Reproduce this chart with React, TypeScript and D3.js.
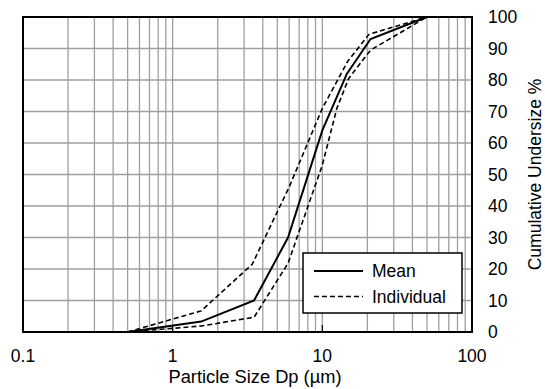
import React from "react";
import * as d3 from "d3";

const meanX = [0.25, 0.5, 1.55, 3.5, 5.9, 10, 14.6, 21, 50];
const meanY = [0, 0, 3.3, 10, 30, 64, 82, 93, 100];
const upperX = [0.5, 1.55, 3.4, 6, 10, 14.8, 20.5, 50];
const upperY = [0, 6.7, 21.5, 46, 71, 86, 94.5, 100];
const lowerX = [0.5, 1.55, 3.5, 5.9, 10, 12.5, 15, 21, 50];
const lowerY = [0, 1.9, 4.7, 21.8, 53, 71, 80.5, 89.5, 100];
const xTicks = [0.1, 1, 10, 100];
const yTicks = [0, 10, 20, 30, 40, 50, 60, 70, 80, 90, 100];
const legendLabels = ["Mean", "Individual"];

const W = 545, H = 389;
const L = 23, R = 472, T = 17, B = 332;
const FONT = "Arial, 'Liberation Sans', sans-serif";

export default function App() {
  const x = d3.scaleLog().domain([0.1, 100]).range([L, R]);
  const y = d3.scaleLinear().domain([0, 100]).range([B, T]);
  const minor: number[] = [];
  for (const dec of [0.1, 1, 10]) for (let k = 2; k <= 9; k++) minor.push(dec * k);
  const line = d3.line<[number, number]>().x(d => x(d[0])).y(d => y(d[1]));
  const mk = (xs: number[], ys: number[]) => line(xs.map((v, i) => [v, ys[i]] as [number, number])) || "";
  const lx = 303, ly = 253, lw = 159, lh = 60;
  return (
    <svg width={W} height={H} style={{ position: "absolute", left: 0, top: 0 }} fontFamily={FONT}>
      <rect x={0} y={0} width={W} height={H} fill="#fff" />
      {minor.map((v, i) => (
        <line key={"m" + i} x1={x(v)} x2={x(v)} y1={T} y2={B} stroke="#9f9f9f" strokeWidth={1.3} />
      ))}
      {[1, 10].map((v, i) => (
        <line key={"M" + i} x1={x(v)} x2={x(v)} y1={T} y2={B} stroke="#9f9f9f" strokeWidth={1.3} />
      ))}
      {yTicks.slice(1, -1).map((v, i) => (
        <line key={"h" + i} x1={L} x2={R} y1={y(v)} y2={y(v)} stroke="#9f9f9f" strokeWidth={1.3} />
      ))}
      {[1, 10].map((v, i) => (
        <line key={"t" + i} x1={x(v)} x2={x(v)} y1={B - 7} y2={B} stroke="#000" strokeWidth={1.2} />
      ))}
      <path d={mk(upperX, upperY)} fill="none" stroke="#000" strokeWidth={1.6} strokeDasharray="5,3" />
      <path d={mk(lowerX, lowerY)} fill="none" stroke="#000" strokeWidth={1.6} strokeDasharray="5,3" />
      <path d={mk(meanX, meanY)} fill="none" stroke="#000" strokeWidth={2} />
      <rect x={L} y={T} width={R - L} height={B - T} fill="none" stroke="#000" strokeWidth={2} />
      <rect x={lx} y={ly} width={lw} height={lh} fill="#fff" stroke="#000" strokeWidth={1.5} />
      <line x1={314} x2={363} y1={271} y2={271} stroke="#000" strokeWidth={2} />
      <line x1={314} x2={363} y1={296.5} y2={296.5} stroke="#000" strokeWidth={1.6} strokeDasharray="5,3" />
      <text x={372} y={277} fontSize={17.5}>{legendLabels[0]}</text>
      <text x={372} y={302.5} fontSize={17.5}>{legendLabels[1]}</text>
      {yTicks.map((v, i) => (
        <text key={"yl" + i} x={488} y={y(v) + 6} fontSize={17.5}>{v}</text>
      ))}
      {xTicks.map((v, i) => (
        <text key={"xl" + i} x={x(v)} y={362} fontSize={17.5} textAnchor="middle">{String(v)}</text>
      ))}
      <text x={255} y={383} fontSize={18.3} textAnchor="middle">Particle Size Dp (µm)</text>
      <text transform={`translate(541,${(T + B) / 2}) rotate(-90)`} fontSize={17.5} textAnchor="middle">Cumulative Undersize %</text>
    </svg>
  );
}
